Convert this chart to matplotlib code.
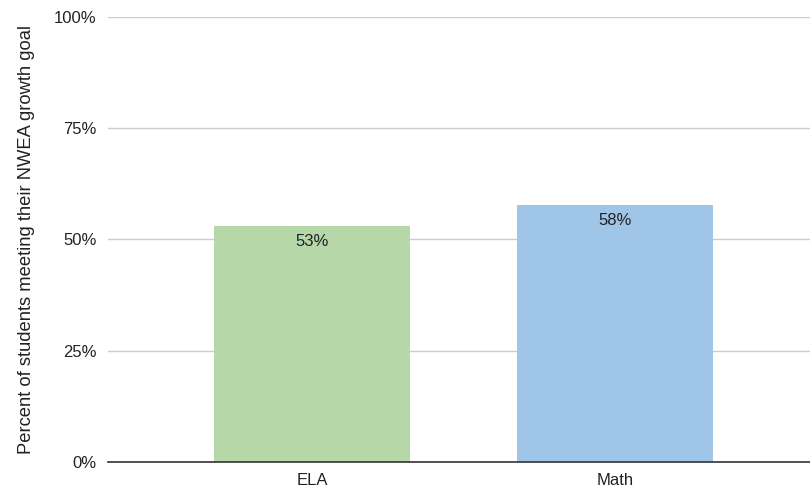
import matplotlib
matplotlib.use("Agg")
import matplotlib.pyplot as plt
from matplotlib.ticker import FuncFormatter

categories = ["ELA", "Math"]
values = [53.0, 57.8]
labels = ["53%", "58%"]
colors = ["#b6d7a8", "#9fc5e8"]
yticks = [0, 25, 50, 75, 100]

plt.rcParams['font.family'] = ['Liberation Sans', 'DejaVu Sans']

fig = plt.figure(figsize=(8.10, 4.91), dpi=100)
ax = fig.add_axes([0.1333, 0.0591, 0.8667, 0.9063])

x = list(range(len(categories)))
bars = ax.bar(x, values, width=0.647, color=colors, zorder=3)
ax.set_xlim(-0.673, 1.644)
ax.set_ylim(0, 100)
ax.set_yticks(yticks)
ax.yaxis.set_major_formatter(FuncFormatter(lambda v, p: f"{int(v)}%"))
ax.set_xticks(x)
ax.set_xticklabels(categories)

for s in ["top", "right", "left"]:
    ax.spines[s].set_visible(False)
ax.spines["bottom"].set_color("#333333")
ax.spines["bottom"].set_linewidth(1.2)
ax.spines["bottom"].set_zorder(4)

ax.grid(axis='y', color="#cccccc", linewidth=1, zorder=0)
ax.tick_params(axis='both', length=0, labelsize=12, colors="#222222")
ax.tick_params(axis='y', pad=8)
ax.tick_params(axis='x', pad=8)
ax.set_ylabel("Percent of students meeting their NWEA growth goal", fontsize=13.2, color="#222222", labelpad=14)

for b, lab in zip(bars, labels):
    ax.annotate(lab, (b.get_x() + b.get_width() / 2, b.get_height()),
                xytext=(0, -6), textcoords="offset points", ha='center', va='top',
                fontsize=12, color="#222222", zorder=5)

fig.savefig("out.png", dpi=100)
